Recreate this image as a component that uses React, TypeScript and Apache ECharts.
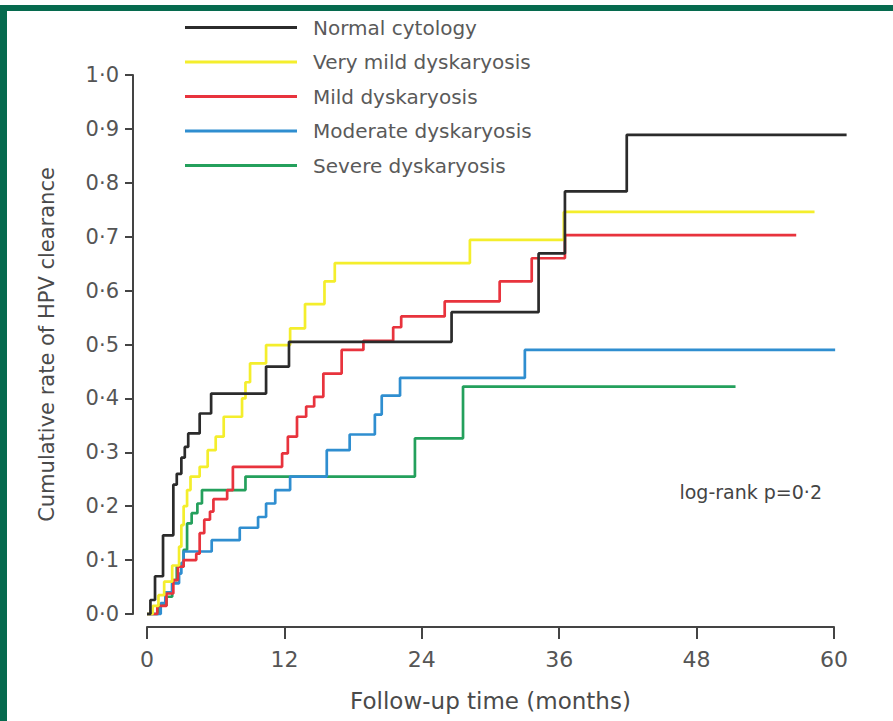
import React, { useEffect, useRef } from "react";
import * as echarts from "echarts";

// ---- data (months, cumulative rate of HPV clearance) ----
const xTicks = [0, 12, 24, 36, 48, 60];
const seriesNames = [
  "Normal cytology",
  "Very mild dyskaryosis",
  "Mild dyskaryosis",
  "Moderate dyskaryosis",
  "Severe dyskaryosis",
];

const normalT = [0, 0.3, 0.7, 1.4, 2.3, 2.6, 3.0, 3.3, 3.6, 4.6, 5.6, 10.4, 12.4, 26.6, 34.2, 36.5, 41.9];
const normalV = [0, 0.026, 0.07, 0.146, 0.24, 0.26, 0.29, 0.31, 0.335, 0.372, 0.409, 0.459, 0.505, 0.56, 0.669, 0.784, 0.889];
const normalEnd = 61.1;

const veryMildT = [0, 0.5, 1.0, 1.5, 2.2, 2.8, 3.0, 3.2, 3.5, 3.8, 4.6, 5.3, 6.0, 6.7, 8.3, 8.6, 9.0, 10.4, 12.5, 13.8, 15.5, 16.4, 28.2, 36.4];
const veryMildV = [0, 0.015, 0.035, 0.06, 0.09, 0.125, 0.165, 0.2, 0.23, 0.255, 0.273, 0.304, 0.329, 0.366, 0.4, 0.43, 0.465, 0.499, 0.53, 0.575, 0.617, 0.651, 0.694, 0.746];
const veryMildEnd = 58.3;

const mildT = [0, 0.9, 1.7, 2.3, 2.7, 3.2, 4.3, 4.6, 5.0, 5.5, 5.8, 7.0, 7.5, 11.8, 12.3, 13.1, 13.9, 14.6, 15.4, 17.0, 18.9, 21.5, 22.2, 26.0, 30.8, 33.6, 36.5];
const mildV = [0, 0.015, 0.038, 0.063, 0.088, 0.1, 0.112, 0.15, 0.175, 0.19, 0.213, 0.23, 0.273, 0.298, 0.329, 0.366, 0.385, 0.403, 0.446, 0.49, 0.507, 0.532, 0.552, 0.58, 0.617, 0.66, 0.703];
const mildEnd = 56.7;

const moderateT = [0, 1.2, 1.6, 2.2, 2.8, 3.0, 3.2, 5.65, 8.1, 9.7, 10.4, 11.2, 12.5, 15.7, 17.7, 19.9, 20.5, 22.1, 33.0];
const moderateV = [0, 0.02, 0.04, 0.057, 0.075, 0.095, 0.116, 0.137, 0.16, 0.18, 0.205, 0.23, 0.255, 0.304, 0.333, 0.37, 0.405, 0.438, 0.49];
const moderateEnd = 60.1;

const severeT = [0, 1.0, 1.7, 2.2, 2.6, 3.2, 3.5, 3.9, 4.4, 4.8, 8.6, 23.4, 27.6];
const severeV = [0, 0.016, 0.032, 0.063, 0.088, 0.119, 0.168, 0.187, 0.205, 0.23, 0.255, 0.326, 0.422];
const severeEnd = 51.4;

const colors = ["#2b2b2b", "#f4ee2c", "#e8333d", "#2f8ed0", "#24a05c"];

function km(T: number[], V: number[], end: number) {
  const pts: number[][] = [];
  for (let i = 0; i < T.length; i++) {
    if (i > 0) pts.push([T[i], V[i - 1]]);
    pts.push([T[i], V[i]]);
  }
  pts.push([end, V[V.length - 1]]);
  return pts;
}

const FONT = "DejaVu Sans";
// plot geometry: 0..60 months over the visible grid; a second, hidden grid with the
// same scale extends to 62 months so curves may run past the last tick.
const GRID_LEFT = 147;
const GRID_RIGHT = 59;
const GRID_TOP = 75;
const GRID_BOTTOM = 107;
const X_MAX = 60;
const X_MAX_EXT = 62;

export default function App() {
  const ref = useRef<HTMLDivElement>(null);
  useEffect(() => {
    if (!ref.current) return;
    const chart = echarts.init(ref.current, undefined, { renderer: "svg" });
    const W = 893;
    const plotW = W - GRID_LEFT - GRID_RIGHT;
    const extRight = W - GRID_LEFT - (plotW * X_MAX_EXT) / X_MAX;
    const curves = [
      km(normalT, normalV, normalEnd),
      km(veryMildT, veryMildV, veryMildEnd),
      km(mildT, mildV, mildEnd),
      km(moderateT, moderateV, moderateEnd),
      km(severeT, severeV, severeEnd),
    ];
    const series = seriesNames
      .map((name, i) => ({
        name,
        type: "line",
        xAxisIndex: 1,
        yAxisIndex: 1,
        data: curves[i],
        showSymbol: false,
        symbol: "none",
        clip: false,
        color: colors[i],
        lineStyle: { width: 2.7, color: colors[i] },
      }))
      .reverse();
    chart.setOption({
      animation: false,
      backgroundColor: "#ffffff",
      textStyle: { fontFamily: FONT },
      grid: [
        { left: GRID_LEFT, right: GRID_RIGHT, top: GRID_TOP, bottom: GRID_BOTTOM },
        { left: GRID_LEFT, right: extRight, top: GRID_TOP, bottom: GRID_BOTTOM },
      ],
      legend: {
        orient: "vertical",
        left: 180,
        top: 12,
        data: seriesNames,
        icon: "rect",
        itemWidth: 112,
        itemHeight: 3,
        itemGap: 13.5,
        selectedMode: false,
        textStyle: {
          fontFamily: FONT,
          fontSize: 20,
          color: "#5a5a5a",
          lineHeight: 21,
          padding: [0, 0, 0, 11],
        },
      },
      xAxis: [
        {
          type: "value",
          gridIndex: 0,
          min: xTicks[0],
          max: xTicks[xTicks.length - 1],
          interval: 12,
          offset: 13,
          name: "Follow-up time (months)",
          nameLocation: "middle",
          nameGap: 62,
          nameTextStyle: { fontFamily: FONT, fontSize: 23, color: "#4a4a4a" },
          axisLine: { show: true, onZero: false, lineStyle: { color: "#444", width: 2 } },
          axisTick: { show: true, length: 12, lineStyle: { color: "#444", width: 2 } },
          axisLabel: { fontFamily: FONT, fontSize: 22, color: "#555", margin: 21 },
          splitLine: { show: false },
        },
        { type: "value", gridIndex: 1, min: 0, max: X_MAX_EXT, show: false },
      ],
      yAxis: [
        {
          type: "value",
          gridIndex: 0,
          min: 0,
          max: 1,
          interval: 0.1,
          offset: 14,
          name: "Cumulative rate of HPV clearance",
          nameLocation: "middle",
          nameGap: 76,
          nameTextStyle: { fontFamily: FONT, fontSize: 21, color: "#4a4a4a" },
          axisLine: { show: true, onZero: false, lineStyle: { color: "#444", width: 2 } },
          axisTick: { show: true, length: 8, lineStyle: { color: "#444", width: 2 } },
          axisLabel: {
            fontFamily: FONT,
            fontSize: 21,
            color: "#555",
            margin: 14,
            formatter: (v: number) => v.toFixed(1).replace(".", "·"),
          },
          splitLine: { show: false },
        },
        { type: "value", gridIndex: 1, min: 0, max: 1, show: false },
      ],
      graphic: [
        { type: "rect", shape: { x: 0, y: 5, width: 893, height: 6 }, style: { fill: "#066a4e" }, z: 10 },
        { type: "rect", shape: { x: 0, y: 5, width: 7, height: 716 }, style: { fill: "#066a4e" }, z: 10 },
        {
          type: "text",
          x: 822,
          y: 492,
          style: {
            text: "log-rank p=0·2",
            fontFamily: FONT,
            fontSize: 19,
            fill: "#444",
            textAlign: "right",
            textVerticalAlign: "middle",
          },
        },
      ],
      series,
    });
    return () => chart.dispose();
  }, []);
  return (
    <div
      ref={ref}
      style={{ position: "fixed", left: 0, top: 0, width: 893, height: 721, background: "#fff" }}
    />
  );
}
